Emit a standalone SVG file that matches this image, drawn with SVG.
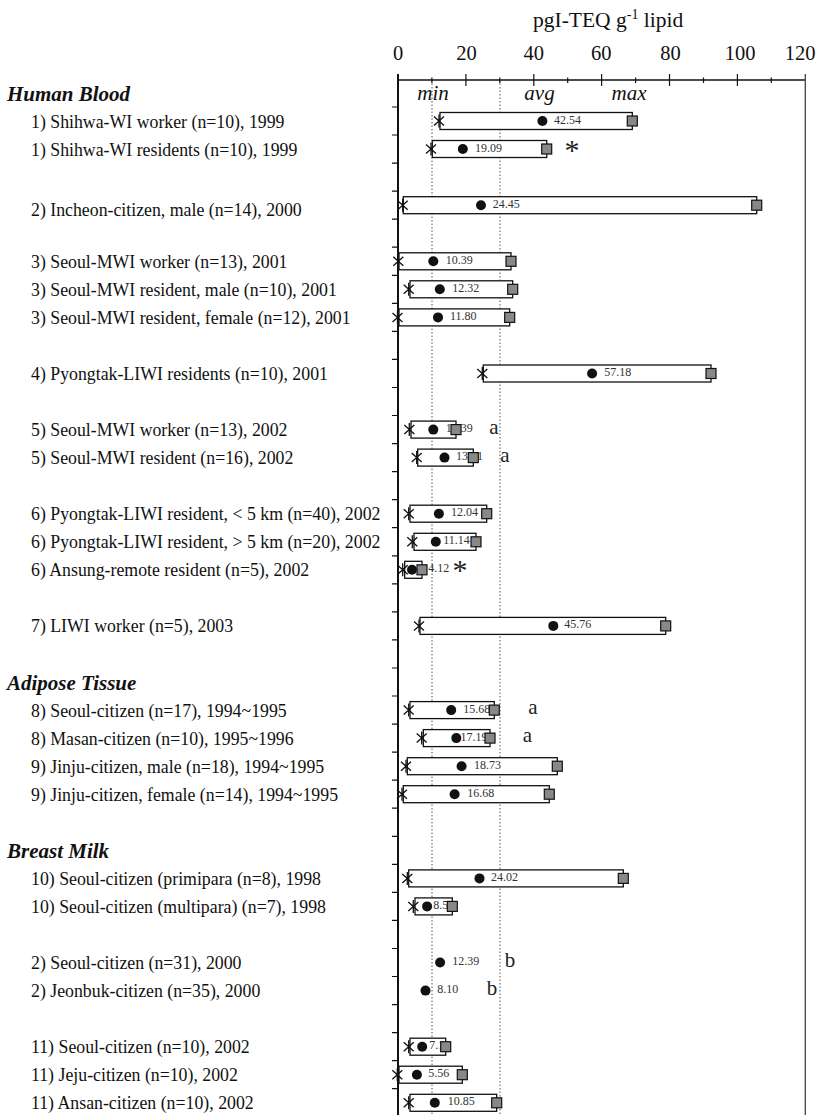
<svg xmlns="http://www.w3.org/2000/svg" width="822" height="1115" viewBox="0 0 822 1115">
<style>
text { font-family: "Liberation Serif", "Times New Roman", serif; fill: #111; }
.lbl { font-size: 17.8px; }
.hdr { font-size: 21px; font-weight: bold; font-style: italic; }
.tick { font-size: 20.5px; text-anchor: middle; }
.it { font-size: 21px; font-style: italic; text-anchor: middle; }
.val { font-size: 12px; fill: #333; }
.let { font-size: 21px; text-anchor: middle; fill: #222; }
.ast { font-size: 30px; text-anchor: middle; fill: #222; }
.bar { fill: #fff; stroke: #111; stroke-width: 1.3; }
.max { fill: #888; stroke: #111; stroke-width: 1.2; }
.avg { fill: #111; }
.min { fill: none; stroke: #111; stroke-width: 1.3; }
.dot { stroke: #555; stroke-width: 1; stroke-dasharray: 1.5 2; fill: none; }
.ax { stroke: #111; fill: none; }
</style>
<defs>
<path id="star" class="min" d="M0,-6.5V6.5M-5,-4.5L5,4.5M-5,4.5L5,-4.5"/>
<rect id="sq" class="max" x="-5" y="-5" width="10" height="10"/>
</defs>

<g id="axes">
<text x="533" y="27" style="font-size:21.5px">pgI-TEQ g<tspan dy="-8" style="font-size:14px">-1</tspan><tspan dy="8"> lipid</tspan></text>
<text class="tick" x="398" y="60">0</text>
<text class="tick" x="466.5" y="60">20</text>
<text class="tick" x="533.8" y="60">40</text>
<text class="tick" x="601.2" y="60">60</text>
<text class="tick" x="670.5" y="60">80</text>
<text class="tick" x="740" y="60">100</text>
<text class="tick" x="800" y="60">120</text>
<line class="dot" x1="432" y1="80" x2="432" y2="1115"/>
<line class="dot" x1="500" y1="80" x2="500" y2="1115"/>
<line class="ax" x1="398" y1="80" x2="805.3" y2="80" stroke-width="1.5"/>
<line class="ax" x1="398" y1="74" x2="398" y2="1115" stroke-width="2"/>
<line x1="805.3" y1="74" x2="805.3" y2="1115" stroke="#444" stroke-width="1.3"/>
<path class="ax" stroke-width="1.2" d="M465.9,74V86M533.8,74V86M601.6,74V86M669.5,74V86M737.4,74V86M431.9,77.5V83M499.8,77.5V83M567.7,77.5V83M635.6,77.5V83M703.5,77.5V83M771.3,77.5V83"/>
<path class="ax" stroke-width="1.2" d="M392,107H398M392,135H398M392,163.1H398M392,191.1H398M392,219.2H398M392,247.2H398M392,275.3H398M392,303.3H398M392,331.4H398M392,359.4H398M392,387.5H398M392,415.5H398M392,443.6H398M392,471.6H398M392,499.7H398M392,527.7H398M392,555.8H398M392,583.8H398M392,611.9H398M392,639.9H398M392,668H398M392,696H398M392,724.1H398M392,752.1H398M392,780.2H398M392,808.2H398M392,836.3H398M392,864.3H398M392,892.4H398M392,920.4H398M392,948.5H398M392,976.5H398M392,1004.6H398M392,1032.6H398M392,1060.7H398M392,1088.7H398"/>
<text class="it" x="433" y="100">min</text>
<text class="it" x="539.5" y="100">avg</text>
<text class="it" x="629" y="100">max</text>
</g>

<g id="headers">
<text class="hdr" x="7" y="101">Human Blood</text>
<text class="hdr" x="7" y="690">Adipose Tissue</text>
<text class="hdr" x="7" y="858">Breast Milk</text>
</g>

<g id="r0">
<text class="lbl" x="31" y="128">1) Shihwa-WI worker (n=10), 1999</text>
<rect class="bar" x="440" y="112.5" width="192.3" height="17"/>
<text class="val" x="554" y="123.5">42.54</text>
<use href="#star" x="439" y="121"/>
<circle class="avg" cx="542.4" cy="121" r="5"/>
<use href="#sq" x="632.3" y="121"/>
</g>

<g id="r1">
<text class="lbl" x="31" y="156">1) Shihwa-WI residents (n=10), 1999</text>
<rect class="bar" x="432.3" y="140.5" width="114.4" height="17"/>
<text class="val" x="475" y="151.5">19.09</text>
<use href="#star" x="431" y="149"/>
<circle class="avg" cx="462.8" cy="149" r="5"/>
<use href="#sq" x="546.7" y="149"/>
<text class="ast" x="572" y="160">*</text>
</g>

<g id="r3">
<text class="lbl" x="31" y="216">2) Incheon-citizen, male (n=14), 2000</text>
<rect class="bar" x="403.3" y="196.7" width="353.4" height="17"/>
<text class="val" x="492.7" y="207.7">24.45</text>
<use href="#star" x="402.7" y="205.2"/>
<circle class="avg" cx="481" cy="205.2" r="5"/>
<use href="#sq" x="756.7" y="205.2"/>
</g>

<g id="r5">
<text class="lbl" x="31" y="267.5">3) Seoul-MWI worker (n=13), 2001</text>
<rect class="bar" x="399" y="252.8" width="112" height="17"/>
<text class="val" x="445.7" y="263.8">10.39</text>
<use href="#star" x="398.3" y="261.3"/>
<circle class="avg" cx="433.3" cy="261.3" r="5"/>
<use href="#sq" x="511" y="261.3"/>
</g>

<g id="r6">
<text class="lbl" x="31" y="295.5">3) Seoul-MWI resident, male (n=10), 2001</text>
<rect class="bar" x="410" y="280.8" width="102.7" height="17"/>
<text class="val" x="452.3" y="291.8">12.32</text>
<use href="#star" x="408.7" y="289.3"/>
<circle class="avg" cx="439.8" cy="289.3" r="5"/>
<use href="#sq" x="512.7" y="289.3"/>
</g>

<g id="r7">
<text class="lbl" x="31" y="323.5">3) Seoul-MWI resident, female (n=12), 2001</text>
<rect class="bar" x="399" y="308.9" width="110.7" height="17"/>
<text class="val" x="450" y="319.9">11.80</text>
<use href="#star" x="397.5" y="317.4"/>
<circle class="avg" cx="438" cy="317.4" r="5"/>
<use href="#sq" x="509.7" y="317.4"/>
</g>

<g id="r9">
<text class="lbl" x="31" y="379.5">4) Pyongtak-LIWI residents (n=10), 2001</text>
<rect class="bar" x="483.3" y="365" width="227.7" height="17"/>
<text class="val" x="604.3" y="376">57.18</text>
<use href="#star" x="482.3" y="373.5"/>
<circle class="avg" cx="592.1" cy="373.5" r="5"/>
<use href="#sq" x="711" y="373.5"/>
</g>

<g id="r11">
<text class="lbl" x="31" y="436">5) Seoul-MWI worker (n=13), 2002</text>
<rect class="bar" x="411" y="421.1" width="45" height="17"/>
<text class="val" x="445.7" y="432.1">10.39</text>
<use href="#star" x="409.3" y="429.6"/>
<circle class="avg" cx="433.3" cy="429.6" r="5"/>
<use href="#sq" x="456" y="429.6"/>
<text class="let" x="494" y="433.5">a</text>
</g>

<g id="r12">
<text class="lbl" x="31" y="464">5) Seoul-MWI resident (n=16), 2002</text>
<rect class="bar" x="417.7" y="449.1" width="55.6" height="17"/>
<text class="val" x="456" y="460.1">13.71</text>
<use href="#star" x="416.7" y="457.6"/>
<circle class="avg" cx="444.5" cy="457.6" r="5"/>
<use href="#sq" x="473.3" y="457.6"/>
<text class="let" x="505" y="461.6">a</text>
</g>

<g id="r14">
<text class="lbl" x="31" y="520">6) Pyongtak-LIWI resident, &lt; 5 km (n=40), 2002</text>
<rect class="bar" x="410" y="505.2" width="76.7" height="17"/>
<text class="val" x="451" y="516.2">12.04</text>
<use href="#star" x="408.7" y="513.7"/>
<circle class="avg" cx="438.9" cy="513.7" r="5"/>
<use href="#sq" x="486.7" y="513.7"/>
</g>

<g id="r15">
<text class="lbl" x="31" y="548">6) Pyongtak-LIWI resident, &gt; 5 km (n=20), 2002</text>
<rect class="bar" x="414" y="533.3" width="62" height="17"/>
<text class="val" x="443.3" y="544.3">11.14</text>
<use href="#star" x="412.3" y="541.8"/>
<circle class="avg" cx="435.8" cy="541.8" r="5"/>
<use href="#sq" x="476" y="541.8"/>
</g>

<g id="r16">
<text class="lbl" x="31" y="576">6) Ansung-remote resident (n=5), 2002</text>
<rect class="bar" x="404.7" y="561.3" width="17.3" height="17"/>
<text class="val" x="428.3" y="572.3">4.12</text>
<use href="#star" x="402.7" y="569.8"/>
<circle class="avg" cx="412" cy="569.8" r="5"/>
<use href="#sq" x="422" y="569.8"/>
<text class="ast" x="460" y="580">*</text>
</g>

<g id="r18">
<text class="lbl" x="31" y="632">7) LIWI worker (n=5), 2003</text>
<rect class="bar" x="420" y="617.4" width="245.7" height="17"/>
<text class="val" x="564.3" y="628.4">45.76</text>
<use href="#star" x="419" y="625.9"/>
<circle class="avg" cx="553.3" cy="625.9" r="5"/>
<use href="#sq" x="665.7" y="625.9"/>
</g>

<g id="r21">
<text class="lbl" x="31" y="716.5">8) Seoul-citizen (n=17), 1994~1995</text>
<rect class="bar" x="410" y="701.6" width="84.3" height="17"/>
<text class="val" x="463.3" y="712.6">15.68</text>
<use href="#star" x="408.7" y="710.1"/>
<circle class="avg" cx="451.2" cy="710.1" r="5"/>
<use href="#sq" x="494.3" y="710.1"/>
<text class="let" x="533" y="714">a</text>
</g>

<g id="r22">
<text class="lbl" x="31" y="744.5">8) Masan-citizen (n=10), 1995~1996</text>
<rect class="bar" x="423.3" y="729.6" width="66.7" height="17"/>
<text class="val" x="460.5" y="740.6">17.19</text>
<use href="#star" x="421.7" y="738.1"/>
<circle class="avg" cx="456.3" cy="738.1" r="5"/>
<use href="#sq" x="490" y="738.1"/>
<text class="let" x="527.5" y="742">a</text>
</g>

<g id="r23">
<text class="lbl" x="31" y="772.5">9) Jinju-citizen, male (n=18), 1994~1995</text>
<rect class="bar" x="407.3" y="757.7" width="150" height="17"/>
<text class="val" x="474" y="768.7">18.73</text>
<use href="#star" x="406" y="766.2"/>
<circle class="avg" cx="461.6" cy="766.2" r="5"/>
<use href="#sq" x="557.3" y="766.2"/>
</g>

<g id="r24">
<text class="lbl" x="31" y="800.5">9) Jinju-citizen, female (n=14), 1994~1995</text>
<rect class="bar" x="403.3" y="785.7" width="146" height="17"/>
<text class="val" x="467.3" y="796.7">16.68</text>
<use href="#star" x="402" y="794.2"/>
<circle class="avg" cx="454.6" cy="794.2" r="5"/>
<use href="#sq" x="549.3" y="794.2"/>
</g>

<g id="r27">
<text class="lbl" x="31" y="885">10) Seoul-citizen (primipara (n=8), 1998</text>
<rect class="bar" x="408.7" y="869.9" width="214.6" height="17"/>
<text class="val" x="491" y="880.9">24.02</text>
<use href="#star" x="407.3" y="878.4"/>
<circle class="avg" cx="479.5" cy="878.4" r="5"/>
<use href="#sq" x="623.3" y="878.4"/>
</g>

<g id="r28">
<text class="lbl" x="31" y="913">10) Seoul-citizen (multipara) (n=7), 1998</text>
<rect class="bar" x="415" y="897.9" width="37.3" height="17"/>
<text class="val" x="433.3" y="908.9">8.57</text>
<use href="#star" x="413.3" y="906.4"/>
<circle class="avg" cx="427.1" cy="906.4" r="5"/>
<use href="#sq" x="452.3" y="906.4"/>
</g>

<g id="r30">
<text class="lbl" x="31" y="969">2) Seoul-citizen (n=31), 2000</text>
<text class="val" x="452.3" y="965">12.39</text>
<circle class="avg" cx="440.1" cy="962.5" r="5"/>
<text class="let" x="510" y="966.5">b</text>
</g>

<g id="r31">
<text class="lbl" x="31" y="997">2) Jeonbuk-citizen (n=35), 2000</text>
<text class="val" x="437.3" y="993">8.10</text>
<circle class="avg" cx="425.5" cy="990.6" r="5"/>
<text class="let" x="492" y="994.5">b</text>
</g>

<g id="r33">
<text class="lbl" x="31" y="1053">11) Seoul-citizen (n=10), 2002</text>
<rect class="bar" x="410" y="1038.2" width="35.7" height="17"/>
<text class="val" x="429.3" y="1049.2">7.14</text>
<use href="#star" x="408.7" y="1046.7"/>
<circle class="avg" cx="422.2" cy="1046.7" r="5"/>
<use href="#sq" x="445.7" y="1046.7"/>
</g>

<g id="r34">
<text class="lbl" x="31" y="1081">11) Jeju-citizen (n=10), 2002</text>
<rect class="bar" x="399" y="1066.2" width="63.3" height="17"/>
<text class="val" x="428.3" y="1077.2">5.56</text>
<use href="#star" x="397.3" y="1074.7"/>
<circle class="avg" cx="416.9" cy="1074.7" r="5"/>
<use href="#sq" x="462.3" y="1074.7"/>
</g>

<g id="r35">
<text class="lbl" x="31" y="1109">11) Ansan-citizen (n=10), 2002</text>
<rect class="bar" x="410" y="1094.3" width="86.7" height="17"/>
<text class="val" x="447.7" y="1105.3">10.85</text>
<use href="#star" x="408.7" y="1102.8"/>
<circle class="avg" cx="434.8" cy="1102.8" r="5"/>
<use href="#sq" x="496.7" y="1102.8"/>
</g>
</svg>
